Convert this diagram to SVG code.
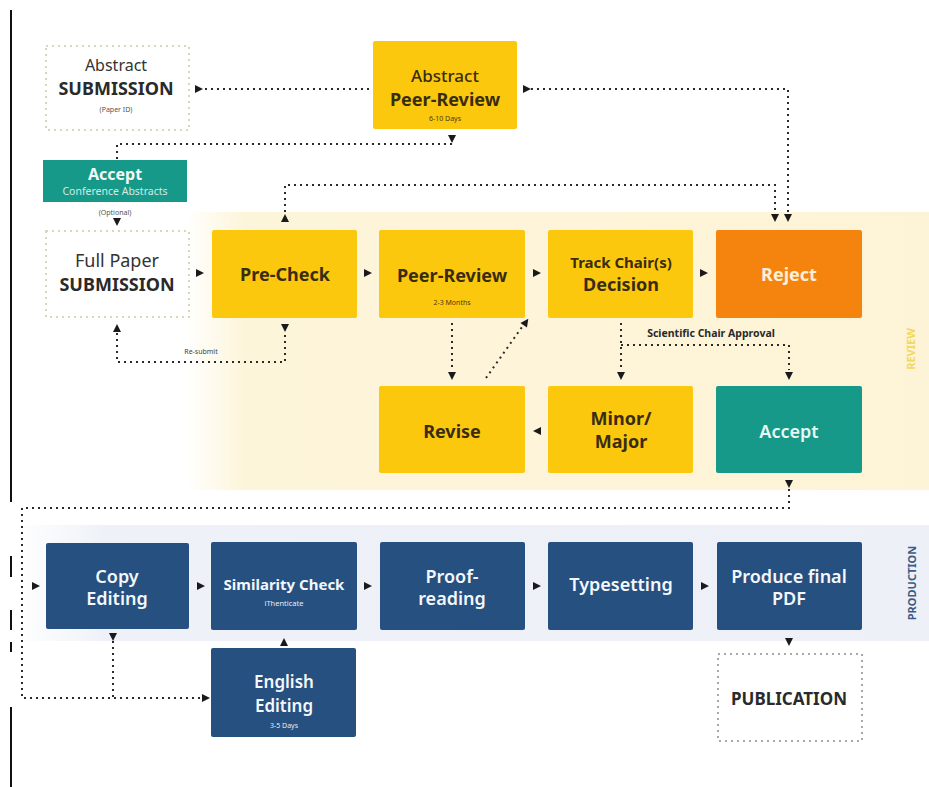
<svg xmlns="http://www.w3.org/2000/svg" width="929" height="787" viewBox="0 0 929 787">
<defs>
<linearGradient id="gRev" x1="0" y1="0" x2="1" y2="0">
<stop offset="0" stop-color="#fdf5da" stop-opacity="0"/>
<stop offset="0.08" stop-color="#fdf5da" stop-opacity="1"/>
<stop offset="1" stop-color="#fdf4d8"/>
</linearGradient>
<linearGradient id="gProd" x1="0" y1="0" x2="1" y2="0">
<stop offset="0" stop-color="#eef2f8" stop-opacity="0"/>
<stop offset="0.1" stop-color="#eef2f8" stop-opacity="1"/>
<stop offset="1" stop-color="#edf1f7"/>
</linearGradient>
<path id="ar" d="M-4,-4 L4,0 L-4,4 Z" fill="#1a1a1a"/>
</defs>
<style>
text{font-family:"Noto Sans","Open Sans","DejaVu Sans",sans-serif;text-anchor:middle}
.yel{fill:#fcc80e}
.org{fill:#f5840f}
.teal{fill:#17998a}
.blue{fill:#25507f}
.dbox{fill:#fff;stroke:#d9d7b8;stroke-width:2;stroke-dasharray:2 4}
.pbox{fill:#fff;stroke:#a8a8a8;stroke-width:2;stroke-dasharray:2 4}
.t1{font-size:18px;fill:#3a2c10;font-weight:700}
.tw{font-size:18px;fill:#f4f7fb;font-weight:600}
.tg{font-size:18px;fill:#333}
.sm{font-size:7px;fill:#555}
.con{fill:none;stroke:#2a2a2a;stroke-width:2;stroke-dasharray:2 4}
</style>
<rect x="185" y="212" width="744" height="278" fill="url(#gRev)"/>
<rect x="14" y="525" width="915" height="116" fill="url(#gProd)"/>
<g id="leftline" stroke="#111" stroke-width="2">
<line x1="11" y1="10" x2="11" y2="502"/>
<line x1="11" y1="556" x2="11" y2="577"/>
<line x1="11" y1="610" x2="11" y2="630"/>
<line x1="11" y1="642" x2="11" y2="652"/>
<line x1="11" y1="707" x2="11" y2="787"/>
</g>
<text x="915" y="349" transform="rotate(-90 915 349)" style="font-size:11px;font-weight:700;fill:#f3d85a">REVIEW</text>
<text x="916" y="583" transform="rotate(-90 916 583)" style="font-size:11px;font-weight:700;fill:#3e5b86">PRODUCTION</text>

<g id="connectors">
<path class="con" d="M205,89 H372"/>
<path class="con" d="M531,89 H788 V213"/>
<path class="con" d="M452,144 H117 V160"/>
<path class="con" d="M285,212 V185 H775 V213"/>
<path class="con" d="M117,333 V362 H285 V333"/>
<path class="con" d="M452,323 V370"/>
<path class="con" d="M486,378 L522,327"/>
<path class="con" d="M621,323 V370"/>
<path class="con" d="M621,345 H789 V370"/>
<path class="con" d="M789,489 V508 H22 V698 H203"/>
<path class="con" d="M113,641 V698"/>
<use href="#ar" transform="translate(199,89)"/>
<use href="#ar" transform="translate(527,89)"/>
<use href="#ar" transform="translate(452,139) rotate(90)"/>
<use href="#ar" transform="translate(775,218) rotate(90)"/>
<use href="#ar" transform="translate(788,218) rotate(90)"/>
<use href="#ar" transform="translate(285,218) rotate(-90)"/>
<use href="#ar" transform="translate(117,222) rotate(90)"/>
<use href="#ar" transform="translate(200,273)"/>
<use href="#ar" transform="translate(368,273)"/>
<use href="#ar" transform="translate(537,273)"/>
<use href="#ar" transform="translate(704,273)"/>
<use href="#ar" transform="translate(117,328) rotate(-90)"/>
<use href="#ar" transform="translate(285,328) rotate(90)"/>
<use href="#ar" transform="translate(452,376) rotate(90)"/>
<use href="#ar" transform="translate(526,322) rotate(-55)"/>
<use href="#ar" transform="translate(621,376) rotate(90)"/>
<use href="#ar" transform="translate(789,376) rotate(90)"/>
<use href="#ar" transform="translate(537,431) rotate(180)"/>
<use href="#ar" transform="translate(789,484) rotate(90)"/>
<use href="#ar" transform="translate(36,586)"/>
<use href="#ar" transform="translate(201,586)"/>
<use href="#ar" transform="translate(368,586)"/>
<use href="#ar" transform="translate(537,586)"/>
<use href="#ar" transform="translate(705,586)"/>
<use href="#ar" transform="translate(113,637) rotate(90)"/>
<use href="#ar" transform="translate(284,642) rotate(-90)"/>
<use href="#ar" transform="translate(206,698)"/>
<use href="#ar" transform="translate(789,642) rotate(90)"/>
<text x="201" y="354" style="font-size:7px;fill:#444">Re-submit</text>
<text x="711" y="337" style="font-size:10.5px;font-weight:700;fill:#2a2a2a">Scientific Chair Approval</text>
<text x="115" y="215" class="sm">(Optional)</text>
</g>

<g id="abstract-submission">
<rect class="dbox" x="46" y="46" width="143" height="84"/>
<text x="116" y="71" style="font-size:16px;fill:#333">Abstract</text>
<text x="116" y="95" style="font-size:18px;font-weight:700;fill:#2a2a2a">SUBMISSION</text>
<text x="116" y="112" class="sm">(Paper ID)</text>
</g>
<g id="abstract-peer-review">
<rect class="yel" x="373" y="41" width="144" height="88" rx="2"/>
<text x="445" y="82" style="font-size:17px;fill:#3a2c10;font-weight:500">Abstract</text>
<text x="445" y="106" class="t1">Peer-Review</text>
<text x="445" y="121" class="sm" style="fill:#4a3a10">6-10 Days</text>
</g>
<g id="accept-abstracts">
<rect class="teal" x="43" y="160" width="144" height="42"/>
<text x="115" y="180" style="font-size:16px;font-weight:700;fill:#f1faf7">Accept</text>
<text x="115" y="195" style="font-size:10.5px;fill:#cfece5">Conference Abstracts</text>
</g>
<g id="full-paper">
<rect class="dbox" x="46" y="231" width="143" height="86"/>
<text x="117" y="267" class="tg">Full Paper</text>
<text x="117" y="291" style="font-size:18px;font-weight:700;fill:#2a2a2a">SUBMISSION</text>
</g>
<g id="pre-check">
<rect class="yel" x="212" y="230" width="145" height="88" rx="2"/>
<text x="285" y="281" class="t1">Pre-Check</text>
</g>
<g id="peer-review">
<rect class="yel" x="379" y="230" width="146" height="88" rx="2"/>
<text x="452" y="282" class="t1">Peer-Review</text>
<text x="452" y="305" class="sm" style="fill:#4a3a10">2-3 Months</text>
</g>
<g id="track-chair">
<rect class="yel" x="548" y="230" width="145" height="88" rx="2"/>
<text x="621" y="268" style="font-size:15px;font-weight:700;fill:#3a2c10">Track Chair(s)</text>
<text x="621" y="291" class="t1">Decision</text>
</g>
<g id="reject">
<rect class="org" x="716" y="230" width="146" height="88" rx="2"/>
<text x="789" y="281" style="font-size:18px;font-weight:700;fill:#fdefd8">Reject</text>
</g>
<g id="revise">
<rect class="yel" x="379" y="386" width="146" height="87" rx="2"/>
<text x="452" y="438" class="t1">Revise</text>
</g>
<g id="minor-major">
<rect class="yel" x="548" y="386" width="145" height="87" rx="2"/>
<text x="621" y="425" class="t1">Minor/</text>
<text x="621" y="448" class="t1">Major</text>
</g>
<g id="accept">
<rect class="teal" x="716" y="386" width="146" height="87" rx="2"/>
<text x="789" y="438" style="font-size:18px;font-weight:600;fill:#e8f7f3">Accept</text>
</g>
<g id="copy-editing">
<rect class="blue" x="46" y="543" width="143" height="86" rx="2"/>
<text x="117" y="583" class="tw">Copy</text>
<text x="117" y="605" class="tw">Editing</text>
</g>
<g id="similarity-check">
<rect class="blue" x="211" y="542" width="146" height="88" rx="2"/>
<text x="284" y="590" style="font-size:15px;font-weight:700;fill:#f4f7fb">Similarity Check</text>
<text x="284" y="606" style="font-size:7.5px;fill:#e6ecf4">iThenticate</text>
</g>
<g id="proof-reading">
<rect class="blue" x="380" y="542" width="145" height="88" rx="2"/>
<text x="452" y="583" class="tw">Proof-</text>
<text x="452" y="605" class="tw">reading</text>
</g>
<g id="typesetting">
<rect class="blue" x="548" y="542" width="145" height="88" rx="2"/>
<text x="621" y="591" class="tw">Typesetting</text>
</g>
<g id="produce-pdf">
<rect class="blue" x="717" y="542" width="145" height="88" rx="2"/>
<text x="789" y="583" class="tw">Produce final</text>
<text x="789" y="605" class="tw">PDF</text>
</g>
<g id="english-editing">
<rect class="blue" x="211" y="648" width="145" height="89" rx="2"/>
<text x="284" y="688" style="font-size:17px;font-weight:600;fill:#f4f7fb">English</text>
<text x="284" y="712" style="font-size:17px;font-weight:600;fill:#f4f7fb">Editing</text>
<text x="284" y="728" style="font-size:7px;fill:#e6ecf4">3-5 Days</text>
</g>
<g id="publication">
<rect class="pbox" x="718" y="654" width="144" height="87"/>
<text x="789" y="705" style="font-size:17px;font-weight:700;fill:#2a2a2a">PUBLICATION</text>
</g>
</svg>
